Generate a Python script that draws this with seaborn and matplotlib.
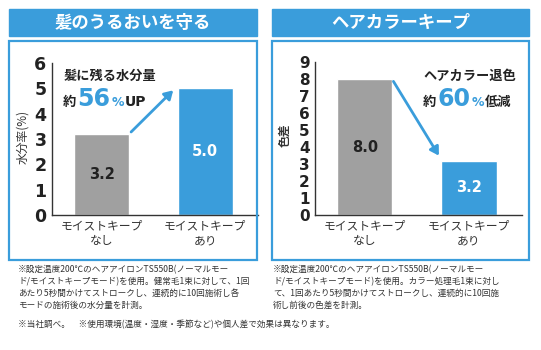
import numpy as np
import pandas as pd
import matplotlib
matplotlib.use("Agg")
import matplotlib.pyplot as plt
from matplotlib.patches import Rectangle
import seaborn as sns

# data
categories = ["モイストキープ\nなし", "モイストキープ\nあり"]
moisture = [3.2, 5.0]
color_diff = [8.0, 3.2]
moisture_ticks = [0, 1, 2, 3, 4, 5, 6]
color_ticks = [0, 1, 2, 3, 4, 5, 6, 7, 8, 9]
titles = ["髪のうるおいを守る", "ヘアカラーキープ"]
ylabels = ["水分率(%)", "色差"]
notes_left = ["※設定温度200℃のヘアアイロンTS550B(ノーマルモー",
              "ド/モイストキープモード)を使用。健常毛1束に対して、1回",
              "あたり5秒間かけてストロークし、連続的に10回施術し各",
              "モードの施術後の水分量を計測。"]
notes_right = ["※設定温度200℃のヘアアイロンTS550B(ノーマルモー",
               "ド/モイストキープモード)を使用。カラー処理毛1束に対し",
               "て、1回あたり5秒間かけてストロークし、連続的に10回施",
               "術し前後の色差を計測。"]
note_bottom = "※当社調べ。　※使用環境(温度・湿度・季節など)や個人差で効果は異なります。"

BLUE = "#3a9ddb"
GREY = "#a0a0a0"
DARK = "#222222"
W, H = 541, 350

sns.set_style("white")
plt.rcParams["font.family"] = ["Noto Sans CJK JP", "DejaVu Sans"]

fig = plt.figure(figsize=(W / 100, H / 100), dpi=100)
renderer = fig.canvas.get_renderer()


def px(x0, y0, x1, y1):
    # pixel box -> figure fraction rect
    return [x0 / W, 1 - y1 / H, (x1 - x0) / W, (y1 - y0) / H]


def ftext(x, y, s, **kw):
    return fig.text(x / W, 1 - y / H, s, **kw)


def run_text(x, y, pieces):
    # place text pieces one after another on a common baseline
    for s, kw in pieces:
        t = ftext(x, y, s, va="baseline", ha="left", **kw)
        x += t.get_window_extent(renderer).width + 1


# panel frames and title bands
for x0, x1, t in [(9, 257, titles[0]), (272, 529, titles[1])]:
    fig.patches.append(Rectangle((x0 / W, 1 - 36 / H), (x1 - x0) / W, 27 / H,
                                 transform=fig.transFigure, color=BLUE, zorder=0))
    fig.patches.append(Rectangle((x0 / W, 1 - 260 / H), (x1 - x0) / W, 219 / H,
                                 transform=fig.transFigure, fill=False,
                                 edgecolor=BLUE, linewidth=1.6, zorder=0))
    ftext((x0 + x1) / 2, 22.5, t, color="white", fontsize=12.5,
          fontweight="bold", ha="center", va="center")


def draw(ax, vals, ticks, tick_fs, labcols):
    df = pd.DataFrame({"cat": categories, "val": vals})
    sns.barplot(data=df, x="cat", y="val", hue="cat", palette=[GREY, BLUE],
                legend=False, width=0.53, saturation=1, ax=ax)
    ax.set_xlim(-0.48, 1.51)
    ax.set_ylim(0, ticks[-1])
    ax.set_yticks(ticks)
    ax.set_yticklabels([str(t) for t in ticks], fontsize=tick_fs,
                       fontweight="bold", family="DejaVu Sans", color=DARK)
    ax.tick_params(axis="both", length=0, pad=4)
    ax.tick_params(axis="x", labelsize=8.5, labelcolor="#333333", pad=3)
    ax.set_xlabel("")
    ax.set_ylabel("")
    for s in ["top", "right"]:
        ax.spines[s].set_visible(False)
    for s in ["left", "bottom"]:
        ax.spines[s].set_color("#333333")
        ax.spines[s].set_linewidth(1.0)
    for i, v in enumerate(vals):
        ax.text(i, v / 2, f"{v:.1f}", ha="center", va="center",
                fontsize=10.5, fontweight="bold", family="DejaVu Sans",
                color=labcols[i])
    ax.patch.set_alpha(0)


arrow = dict(arrowstyle="-|>,head_length=0.5,head_width=0.3", color=BLUE, lw=2)

ax1 = fig.add_axes(px(52, 63, 258, 215))
draw(ax1, moisture, moisture_ticks, 12.5, [DARK, "white"])
ax1.annotate("", xy=(0.71, moisture[1]), xytext=(0.265, moisture[0]),
             arrowprops=arrow)

ax2 = fig.add_axes(px(315, 62, 522, 215))
draw(ax2, color_diff, color_ticks, 11, [DARK, "white"])
ax2.annotate("", xy=(0.725, 3.35), xytext=(0.26, color_diff[0]),
             arrowprops=arrow)

# y labels
ftext(23, 137, ylabels[0], rotation=90, fontsize=8.5, ha="center", va="center",
      color="#333333")
ftext(285, 135, ylabels[1], rotation=90, fontsize=8.5, fontweight="bold",
      ha="center", va="center", color="#333333")

# callouts
bold = dict(fontsize=9.5, fontweight="bold", color=DARK)
big = dict(fontsize=17, fontweight="bold", color=BLUE, family="DejaVu Sans")
pct = dict(fontsize=9, fontweight="bold", color=BLUE, family="DejaVu Sans")
ftext(64, 76, "髪に残る水分量", va="center", **bold)
run_text(63, 106, [("約", bold), ("56", big), ("%", pct),
                   ("UP", dict(fontsize=10, fontweight="bold", color=DARK,
                               family="DejaVu Sans"))])
ftext(423, 76, "ヘアカラー退色", va="center", **bold)
run_text(423, 106, [("約", bold), ("60", big), ("%", pct), ("低減", bold)])

# footnotes
note = dict(fontsize=6.2, va="center", color="#333333")
for i, line in enumerate(notes_left):
    ftext(18, 270 + i * 11.8, line, **note)
for i, line in enumerate(notes_right):
    ftext(273, 270 + i * 11.8, line, **note)
ftext(18, 325, note_bottom, **note)

fig.savefig("out.png", dpi=100)
